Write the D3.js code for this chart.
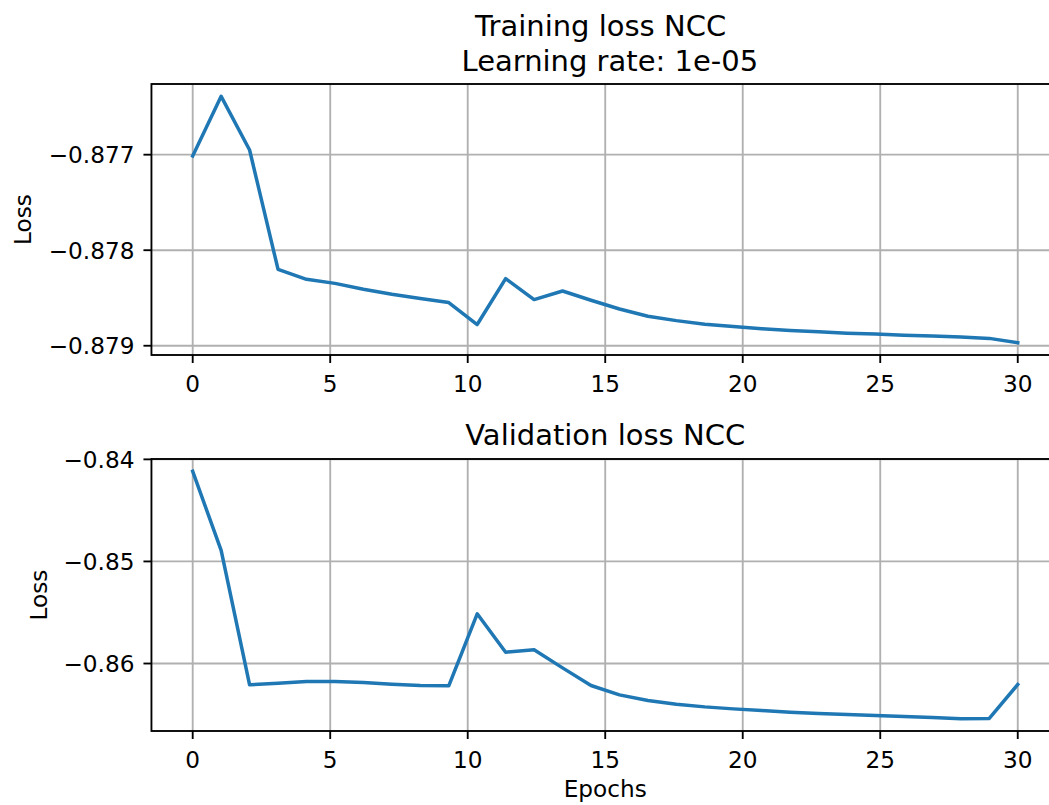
<!DOCTYPE html>
<html>
<head>
<meta charset="utf-8">
<script src="https://cdn.jsdelivr.net/npm/d3@7"></script>
<style>
  html, body { margin: 0; padding: 0; background: #fff; }
  svg { display: block; font-family: "DejaVu Sans", sans-serif; }
</style>
</head>
<body>
<svg id="chart" width="1049" height="805"></svg>
<script>
// epochs: 30 points spread evenly over 0..30
var epochs = d3.range(30).map(function(i){ return i * 30 / 29; });

var trainLoss = [
  -0.877014, -0.876389, -0.876951, -0.878201, -0.878305, -0.878347, -0.878409, -0.878461,
  -0.878506, -0.878548, -0.878778, -0.878298, -0.878517, -0.878427, -0.878524, -0.878615,
  -0.878692, -0.878737, -0.878774, -0.878798, -0.878822, -0.878840, -0.878853, -0.878868,
  -0.878878, -0.878889, -0.878899, -0.878909, -0.878923, -0.878968
];
var valLoss = [
  -0.841176, -0.848922, -0.862092, -0.861930, -0.861765, -0.861765, -0.861863, -0.862026,
  -0.862157, -0.862190, -0.855131, -0.858892, -0.858657, -0.860425, -0.862157, -0.863072,
  -0.863627, -0.863990, -0.864248, -0.864444, -0.864608, -0.864771, -0.864902, -0.865000,
  -0.865098, -0.865196, -0.865294, -0.865400, -0.865380, -0.862059
];

var xTicks = [0, 5, 10, 15, 20, 25, 30];
var trainTicks = [-0.877, -0.878, -0.879];
var valTicks = [-0.84, -0.85, -0.86];

var svg = d3.select('#chart');
var tickFont = 23.2, titleFont = 29;
var lw = 1.86;

var x = d3.scaleLinear().domain([-1.5, 31.5]).range([151.45, 1059]);

function padded(vals){
  var ext = d3.extent(vals), m = (ext[1] - ext[0]) * 0.05;
  return [ext[0] - m, ext[1] + m];
}

function panel(opt){
  var y = d3.scaleLinear().domain(padded(opt.values)).range([opt.bottom, opt.top]);
  var g = svg.append('g');
  var x0 = x.range()[0], x1 = x.range()[1];

  // grid
  g.selectAll('line.gx').data(xTicks).enter().append('line')
    .attr('x1', function(d){ return x(d); }).attr('x2', function(d){ return x(d); })
    .attr('y1', opt.top).attr('y2', opt.bottom)
    .attr('stroke', '#b0b0b0').attr('stroke-width', lw);
  g.selectAll('line.gy').data(opt.ticks).enter().append('line')
    .attr('x1', x0).attr('x2', x1)
    .attr('y1', function(d){ return y(d); }).attr('y2', function(d){ return y(d); })
    .attr('stroke', '#b0b0b0').attr('stroke-width', lw);

  // data line
  g.append('path')
    .datum(opt.values)
    .attr('fill', 'none').attr('stroke', '#1f77b4').attr('stroke-width', 3.5)
    .attr('stroke-linejoin', 'round').attr('stroke-linecap', 'square')
    .attr('d', d3.line().x(function(d, i){ return x(epochs[i]); }).y(function(d){ return y(d); }));

  // frame
  g.append('rect').attr('x', x0).attr('y', opt.top)
    .attr('width', x1 - x0).attr('height', opt.bottom - opt.top)
    .attr('fill', 'none').attr('stroke', '#000').attr('stroke-width', lw);

  // x ticks
  var xt = g.selectAll('g.xt').data(xTicks).enter().append('g')
    .attr('transform', function(d){ return 'translate(' + x(d) + ',' + opt.bottom + ')'; });
  xt.append('line').attr('y1', 0).attr('y2', 8).attr('stroke', '#000').attr('stroke-width', lw);
  xt.append('text').attr('y', 36.7).attr('text-anchor', 'middle')
    .attr('font-size', tickFont).text(function(d){ return d; });

  // y ticks
  var fmt = d3.format(opt.fmt);
  var yt = g.selectAll('g.yt').data(opt.ticks).enter().append('g')
    .attr('transform', function(d){ return 'translate(' + x0 + ',' + y(d) + ')'; });
  yt.append('line').attr('x1', 0).attr('x2', -8).attr('stroke', '#000').attr('stroke-width', lw);
  yt.append('text').attr('x', -17).attr('y', 8.5).attr('text-anchor', 'end')
    .attr('font-size', tickFont).text(function(d){ return fmt(d); });

  // y label
  g.append('text')
    .attr('transform', 'translate(' + opt.ylabelX + ',' + ((opt.top + opt.bottom) / 2) + ') rotate(-90)')
    .attr('text-anchor', 'middle').attr('font-size', tickFont).text('Loss');

  return y;
}

panel({ values: trainLoss, ticks: trainTicks, top: 84, bottom: 355, fmt: '.3f', ylabelX: 31 });
panel({ values: valLoss, ticks: valTicks, top: 459, bottom: 731, fmt: '.2f', ylabelX: 47 });

var cx = (x.range()[0] + x.range()[1]) / 2;
var sp = 0.318 * titleFont / 2;

svg.append('text').attr('x', cx - sp).attr('y', 36).attr('text-anchor', 'middle')
  .attr('font-size', titleFont).text('Training loss NCC');
svg.append('text').attr('x', cx + sp).attr('y', 70.5).attr('text-anchor', 'middle')
  .attr('font-size', titleFont).text('Learning rate: 1e-05');
svg.append('text').attr('x', cx).attr('y', 445).attr('text-anchor', 'middle')
  .attr('font-size', titleFont).text('Validation loss NCC');
svg.append('text').attr('x', cx).attr('y', 797).attr('text-anchor', 'middle')
  .attr('font-size', tickFont).text('Epochs');
</script>
</body>
</html>
